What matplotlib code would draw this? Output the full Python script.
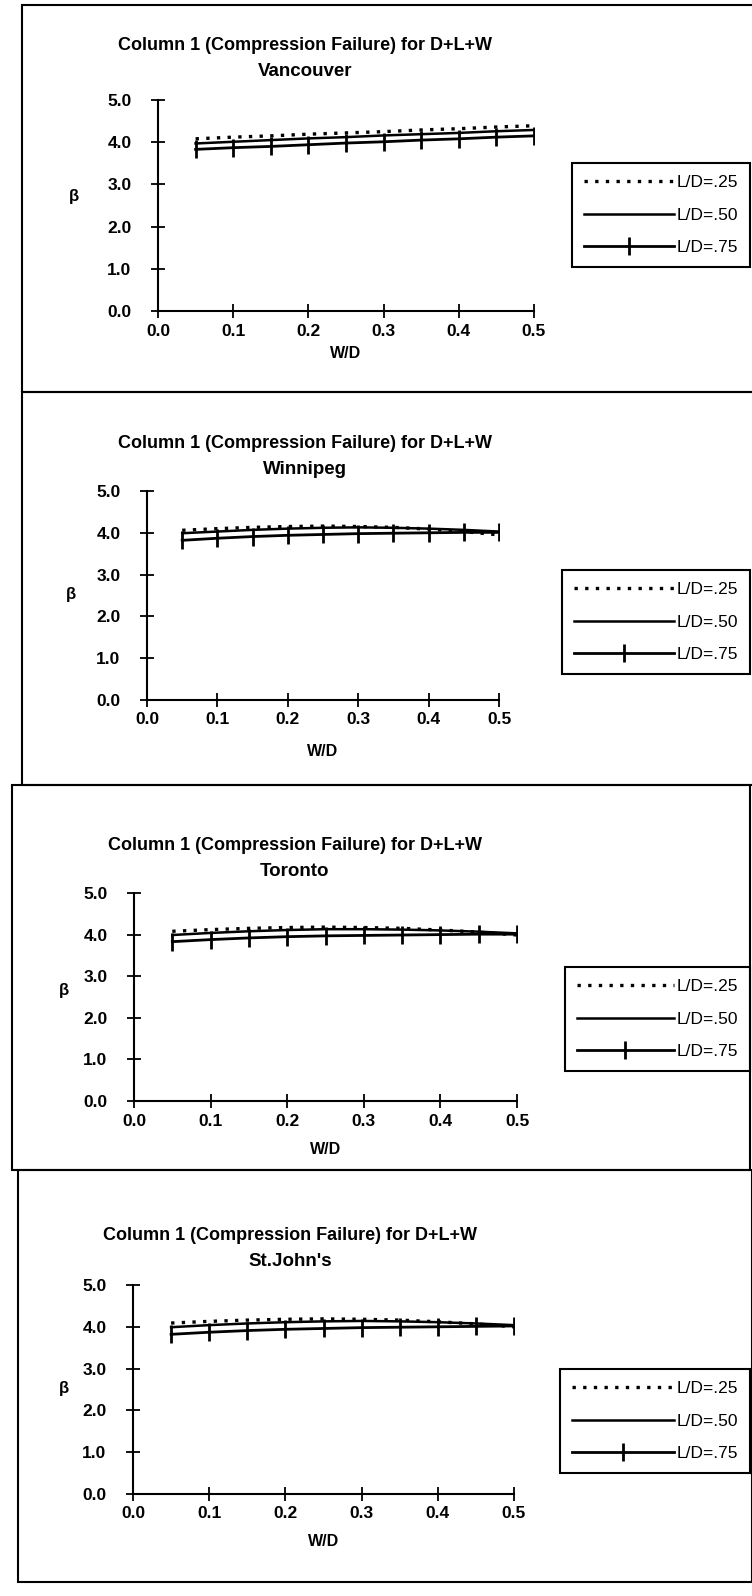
import matplotlib
matplotlib.use("Agg")
import matplotlib.pyplot as plt
from matplotlib.patches import Rectangle

plt.rcParams['font.family'] = ['Liberation Sans', 'DejaVu Sans']

# W/D ratios shared by every city
wd = [0.05, 0.10, 0.15, 0.20, 0.25, 0.30, 0.35, 0.40, 0.45, 0.50]

cities = ["Vancouver", "Winnipeg", "Toronto", "St.John's"]
ld_labels = ["L/D=.25", "L/D=.50", "L/D=.75"]

# reliability index beta, one list per L/D ratio
vancouver_25 = [4.08, 4.12, 4.15, 4.19, 4.22, 4.25, 4.29, 4.32, 4.36, 4.39]
vancouver_50 = [3.97, 4.01, 4.05, 4.09, 4.12, 4.16, 4.19, 4.22, 4.26, 4.29]
vancouver_75 = [3.83, 3.87, 3.90, 3.94, 3.98, 4.01, 4.05, 4.08, 4.12, 4.15]

winnipeg_25 = [4.06, 4.10, 4.13, 4.15, 4.16, 4.15, 4.13, 4.09, 4.03, 3.95]
winnipeg_50 = [3.99, 4.03, 4.07, 4.10, 4.12, 4.13, 4.12, 4.10, 4.07, 4.03]
winnipeg_75 = [3.82, 3.87, 3.91, 3.94, 3.96, 3.98, 3.99, 4.00, 4.01, 4.01]

toronto_25 = [4.08, 4.12, 4.15, 4.17, 4.18, 4.17, 4.15, 4.11, 4.06, 3.99]
toronto_50 = [3.99, 4.04, 4.08, 4.11, 4.13, 4.13, 4.12, 4.10, 4.07, 4.03]
toronto_75 = [3.83, 3.88, 3.92, 3.95, 3.97, 3.98, 3.99, 4.00, 4.01, 4.01]

stjohns_25 = [4.09, 4.13, 4.16, 4.18, 4.19, 4.18, 4.16, 4.12, 4.07, 4.00]
stjohns_50 = [3.99, 4.04, 4.08, 4.11, 4.13, 4.14, 4.13, 4.11, 4.08, 4.04]
stjohns_75 = [3.82, 3.87, 3.91, 3.94, 3.96, 3.98, 3.99, 4.00, 4.01, 4.02]

series = [
    (vancouver_25, vancouver_50, vancouver_75),
    (winnipeg_25, winnipeg_50, winnipeg_75),
    (toronto_25, toronto_50, toronto_75),
    (stjohns_25, stjohns_50, stjohns_75),
]

xticks = [0.0, 0.1, 0.2, 0.3, 0.4, 0.5]
yticks = [0.0, 1.0, 2.0, 3.0, 4.0, 5.0]

W, H = 752, 1596
fig = plt.figure(figsize=(W / 100, H / 100), dpi=100)


def fx(x):
    return x / W


def fy(y):
    return 1 - y / H


# pixel layout of each panel: axes corners, frame box, title, beta, legend
panels = [
    dict(x0=158, x5=534, y0=311, y5=100, box=(22, 5, 790, 392), title_x=305, title_y=46,
         beta=(74, 196), wd_y=353, leg=(750, 163, 565)),
    dict(x0=147, x5=499, y0=700, y5=491, box=(22, 392, 790, 785), title_x=305, title_y=443,
         beta=(71, 595), wd_y=751, leg=(750, 570, 555)),
    dict(x0=134, x5=517, y0=1101, y5=893, box=(12, 785, 750, 1170), title_x=295, title_y=845,
         beta=(64, 990), wd_y=1150, leg=(750, 967, 558)),
    dict(x0=133, x5=514, y0=1494, y5=1285, box=(18, 1170, 752, 1582), title_x=290, title_y=1236,
         beta=(64, 1389), wd_y=1542, leg=(750, 1369, 553)),
]

for p, city, (s25, s50, s75) in zip(panels, cities, series):
    # frame around the whole panel
    bx0, by0, bx1, by1 = p['box']
    fig.add_artist(Rectangle((fx(bx0), fy(by1)), fx(bx1 - bx0), (by1 - by0) / H,
                             transform=fig.transFigure, fill=False, edgecolor='black', lw=1.5))

    ax = fig.add_axes([fx(p['x0']), fy(p['y0']), fx(p['x5'] - p['x0']), (p['y0'] - p['y5']) / H])
    l1, = ax.plot(wd, s25, color='black', lw=2.4, linestyle=(0, (1, 2.2)))
    l2, = ax.plot(wd, s50, color='black', lw=1.8)
    l3, = ax.plot(wd, s75, color='black', lw=2.0, marker='|', markersize=13, mew=2)

    ax.set_xlim(0, 0.5)
    ax.set_ylim(0, 5)
    ax.set_xticks(xticks)
    ax.set_yticks(yticks)
    ax.set_xticklabels(['%.1f' % v for v in xticks], fontsize=12.5, fontweight='bold')
    ax.set_yticklabels(['%.1f' % v for v in yticks], fontsize=12.5, fontweight='bold')
    ax.tick_params(direction='inout', length=10, width=1.3)
    ax.tick_params(axis='y', pad=14)
    ax.tick_params(axis='x', pad=4)
    for side in ('top', 'right'):
        ax.spines[side].set_visible(False)
    for side in ('left', 'bottom'):
        ax.spines[side].set_linewidth(1.5)
    ax.patch.set_alpha(0)

    fig.text(fx(p['title_x']), fy(p['title_y']), "Column 1 (Compression Failure) for D+L+W",
             ha='center', va='center', fontsize=13, fontweight='bold')
    fig.text(fx(p['title_x']), fy(p['title_y'] + 26), city,
             ha='center', va='center', fontsize=13.5, fontweight='bold')
    fig.text(fx(p['beta'][0]), fy(p['beta'][1]), "\u03b2",
             ha='center', va='center', fontsize=12, fontweight='bold')
    fig.text(fx((p['x0'] + p['x5']) / 2), fy(p['wd_y']), "W/D",
             ha='center', va='center', fontsize=11.5, fontweight='bold')

    # legend box spans from its left edge to the panel's right side
    right, top, left = p['leg']
    leg = ax.legend([l1, l2, l3], ld_labels, loc='upper right',
                    bbox_to_anchor=(fx(right), fy(top)),
                    bbox_transform=fig.transFigure, fontsize=12.5, numpoints=1,
                    handlelength=(right - left - 95) / 17.4, handletextpad=0.15,
                    labelspacing=1.0, borderpad=0.7, borderaxespad=0,
                    fancybox=False, framealpha=1)
    leg.get_frame().set_edgecolor('black')
    leg.get_frame().set_linewidth(1.5)

fig.savefig("out.png", dpi=100)
